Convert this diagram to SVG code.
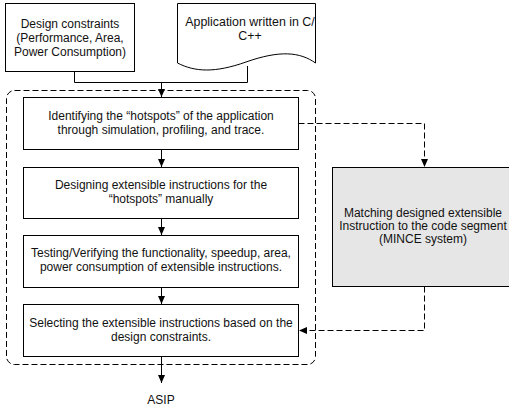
<svg xmlns="http://www.w3.org/2000/svg" width="509" height="408" viewBox="0 0 509 408">
<defs>
<marker id="ah" markerWidth="8" markerHeight="8" viewBox="0 0 8 8" refX="8" refY="4" orient="auto" markerUnits="userSpaceOnUse">
<path d="M0,0.5 L8,4 L0,7.5 Z" fill="#000"/>
</marker>
</defs>
<style>
.box{fill:#fff;stroke:#000;stroke-width:1}
.gray{fill:#e6e6e6;stroke:#000;stroke-width:1}
.t{font-family:"Liberation Sans",Arial,sans-serif;font-size:12px;fill:#111;text-anchor:middle}
.doc{font-size:12.4px}
.ln{fill:none;stroke:#000;stroke-width:1}
.dl{fill:none;stroke:#000;stroke-width:1;stroke-dasharray:6,3}
</style>
<rect x="0" y="0" width="509" height="408" fill="#fff"/>
<g id="container"><rect x="6.5" y="90.5" width="309" height="274" rx="8" class="dl"/></g>
<g id="constraints"><rect x="5.5" y="3.5" width="129" height="68" class="box"/>
<text class="t" x="70" y="28">Design constraints</text>
<text class="t" x="70" y="42">(Performance, Area,</text>
<text class="t" x="70" y="56">Power Consumption)</text></g>
<g id="application"><path d="M177.5,3.5 H315.5 V63 C300,52 280,50 246,62 C215,73 195,72 177.5,63 Z" class="box"/>
<text class="t doc" x="250" y="25.5">Application written in C/</text>
<text class="t doc" x="250" y="39.5">C++</text></g>
<g id="identify"><rect x="23.5" y="97.5" width="275" height="52" class="box"/>
<text class="t" x="161" y="120">Identifying the “hotspots” of the application</text>
<text class="t" x="161" y="134">through simulation, profiling, and trace.</text></g>
<g id="designing"><rect x="23.5" y="167.5" width="275" height="51" class="box"/>
<text class="t" x="161" y="189">Designing extensible instructions for the</text>
<text class="t" x="161" y="203">“hotspots” manually</text></g>
<g id="testing"><rect x="23.5" y="235.5" width="275" height="52" class="box"/>
<text class="t" x="161" y="257">Testing/Verifying the functionality, speedup, area,</text>
<text class="t" x="161" y="271">power consumption of extensible instructions.</text></g>
<g id="selecting"><rect x="23.5" y="304.5" width="275" height="52" class="box"/>
<text class="t" x="161" y="327">Selecting the extensible instructions based on the</text>
<text class="t" x="161" y="341">design constraints.</text></g>
<g id="matching"><rect x="332.5" y="167.5" width="190" height="119" class="gray"/>
<text class="t" x="423" y="217">Matching designed extensible</text>
<text class="t" x="423" y="230">Instruction to the code segment</text>
<text class="t" x="423" y="243">(MINCE system)</text></g>
<g id="asip"><text class="t" x="161" y="404">ASIP</text></g>
<g id="connectors">
<path class="ln" d="M74.5,71.5 V82.5 H247.5 V66"/>
<path class="ln" d="M161.5,82.5 V97" marker-end="url(#ah)"/>
<path class="ln" d="M161.5,149.5 V167" marker-end="url(#ah)"/>
<path class="ln" d="M161.5,218.5 V235" marker-end="url(#ah)"/>
<path class="ln" d="M161.5,287.5 V304" marker-end="url(#ah)"/>
<path class="ln" d="M161.5,356.5 V383" marker-end="url(#ah)"/>
<path class="dl" d="M298.5,123.5 H424.5 V167" marker-end="url(#ah)"/>
<path class="dl" d="M424.5,286.5 V330.5 H299" marker-end="url(#ah)"/>
</g>
</svg>
